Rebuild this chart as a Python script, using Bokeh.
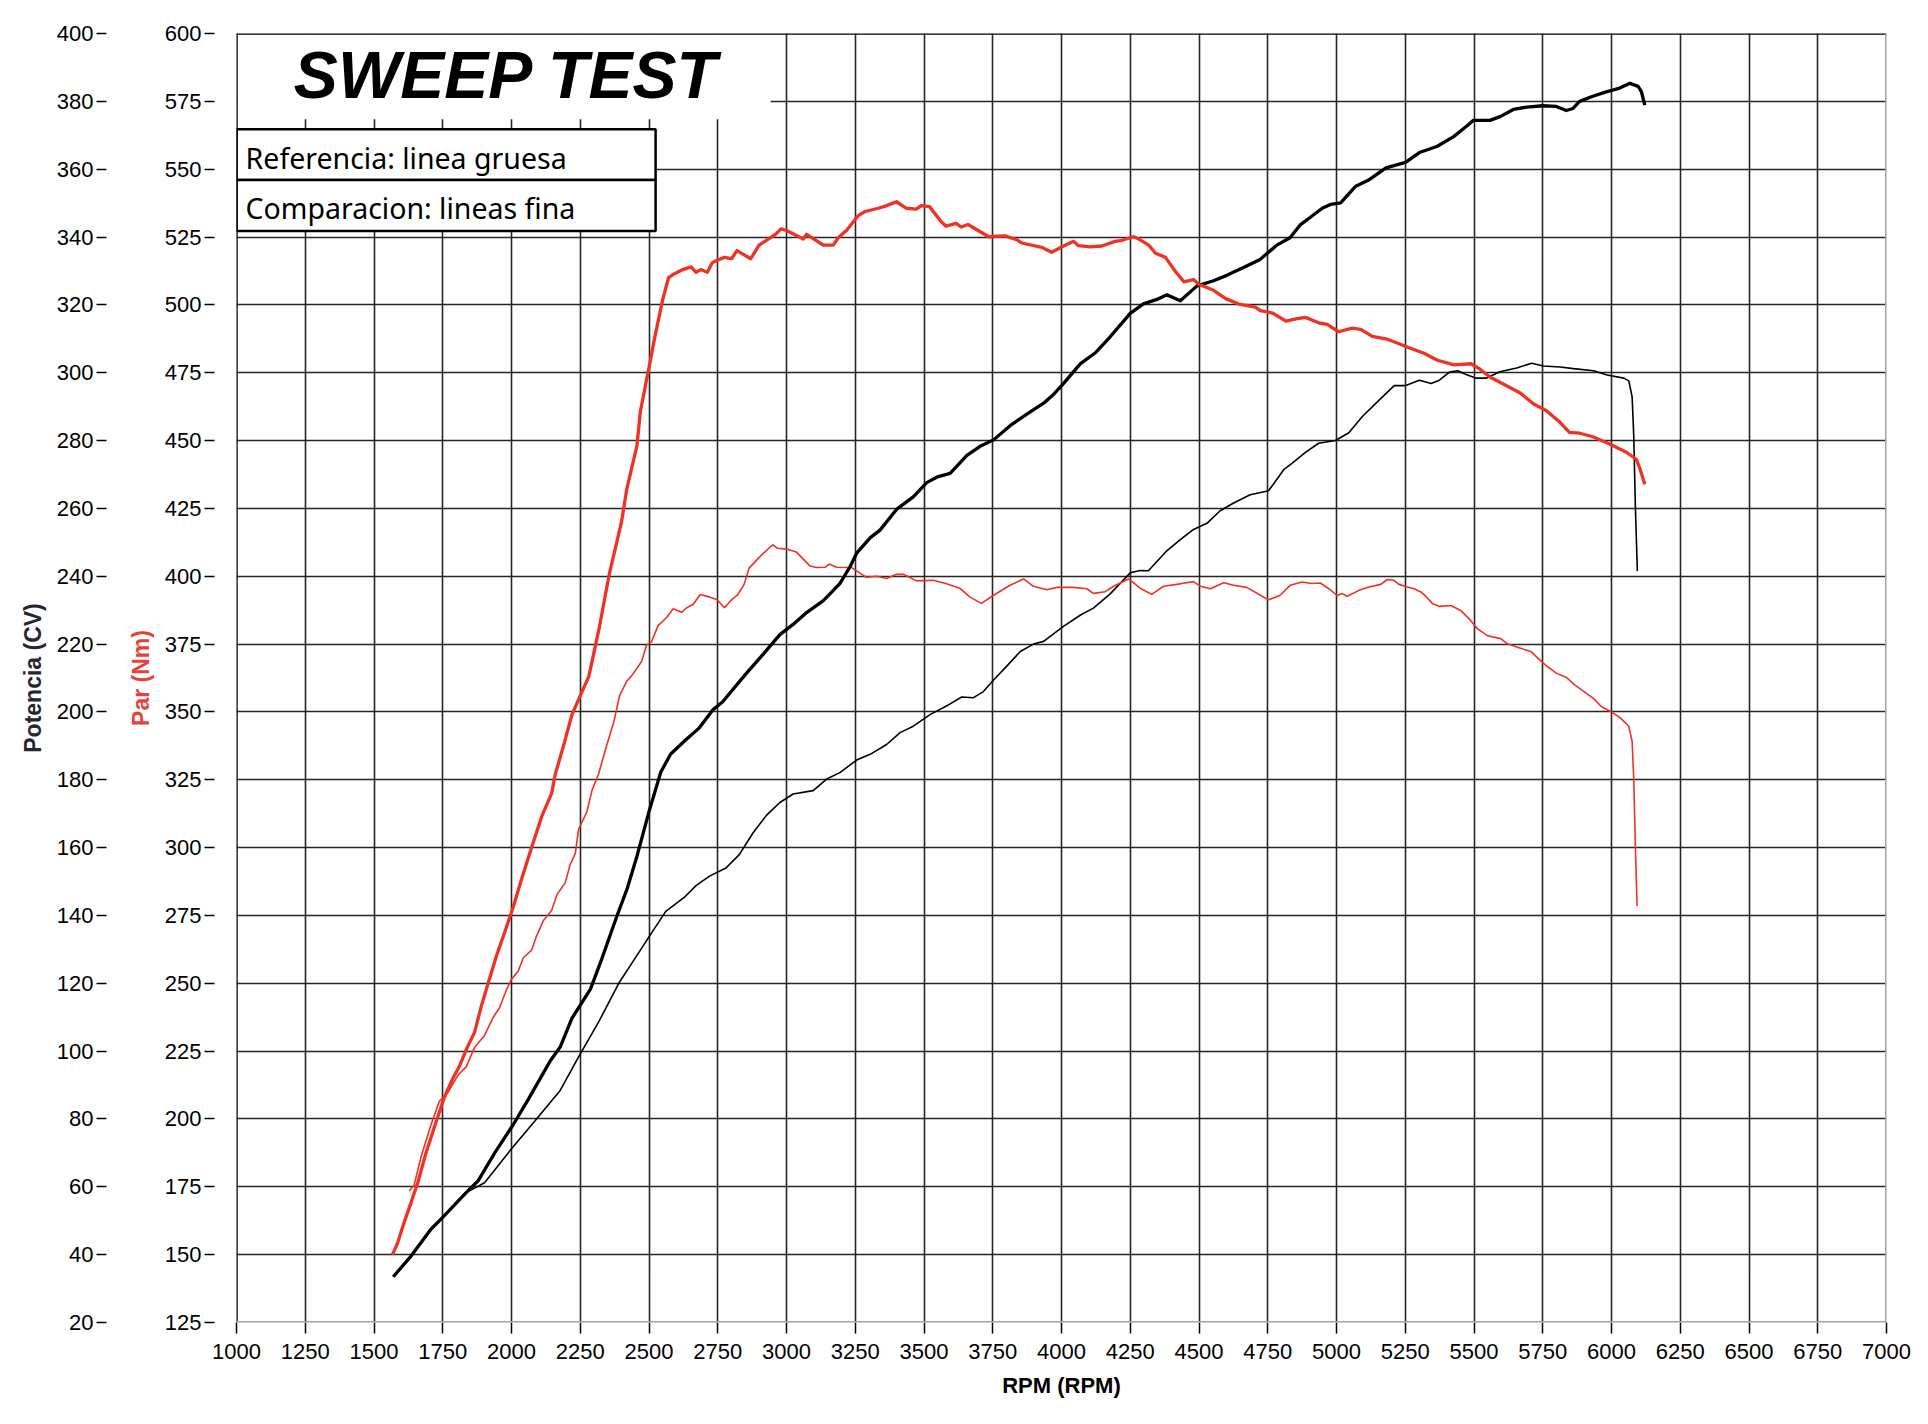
from bokeh.plotting import figure
from bokeh.models import Range1d, LinearAxis, FixedTicker, BoxAnnotation, Span, Label
from bokeh.embed import file_html
from bokeh.resources import INLINE

# ---------------- data ----------------
rpm_ticks = list(range(1000, 7001, 250))
nm_ticks = list(range(125, 601, 25))
cv_ticks = list(range(20, 401, 20))

title_text = "SWEEP TEST"
legend_rows = ["Referencia: linea gruesa", "Comparacion: lineas fina"]
x_label = "RPM (RPM)"
cv_label = "Potencia (CV)"
nm_label = "Par (Nm)"

# Reference (thick) torque, Nm
ref_tq_rpm = [1567, 1585, 1610, 1634, 1659, 1689, 1726, 1756, 1787, 1811, 1835, 1866, 1890, 1915, 1945,
              1976, 2006, 2037, 2073, 2110, 2146, 2159, 2189, 2220, 2250, 2281, 2319, 2356, 2400, 2419,
              2456, 2469, 2506, 2521, 2550, 2571, 2593, 2623, 2653, 2671, 2688, 2712, 2730, 2750, 2774,
              2800, 2820, 2870, 2900, 2960, 2980, 3000, 3061, 3073, 3134, 3170, 3188, 3218, 3262, 3286,
              3334, 3359, 3400, 3436, 3472, 3490, 3520, 3562, 3580, 3617, 3635, 3660, 3697, 3735, 3795,
              3837, 3855, 3928, 3964, 4002, 4044, 4062, 4104, 4147, 4195, 4220, 4262, 4280, 4317, 4342,
              4378, 4415, 4445, 4481, 4500, 4549, 4597, 4645, 4705, 4723, 4767, 4816, 4853, 4887, 4935,
              4966, 5008, 5057, 5088, 5130, 5179, 5209, 5257, 5318, 5367, 5428, 5489, 5522, 5558, 5620,
              5668, 5717, 5762, 5810, 5847, 5884, 5932, 5993, 6054, 6090, 6103, 6121]
ref_tq_nm = [150, 154, 162, 169, 176.5, 187.5, 199, 208, 215, 219.5, 225.5, 232, 241.5, 250, 260,
             269, 278, 288.5, 300, 311.5, 320, 327, 337.5, 349, 356, 363, 381, 401, 420, 432,
             448, 461, 480, 488, 502, 510, 511.5, 513, 514, 512, 513, 512, 515.5, 516.5, 517.5,
             517, 520, 517, 522, 526, 528, 527.4, 524.3, 526, 522, 522, 524.7, 527.4, 533, 534.4,
             535.6, 536.4, 538, 535.6, 535.3, 536.6, 536.2, 530.7, 529, 530, 528.7, 529.6, 527.4, 525.1, 525.4,
             524, 522.8, 521.2, 519.4, 521.4, 523.4, 521.8, 521.4, 521.7, 523.4, 523.8, 525.1, 524.3, 522, 519,
             517.5, 512.2, 508.5, 509.3, 507.5, 505.6, 502.3, 500.3, 499.2, 497.9, 497, 494, 494.8, 495.4, 493.4,
             492.8, 490.1, 491.4, 491, 488.4, 487.5, 486.4, 484.5, 482.2, 479.6, 477.9, 478.3, 476.3, 473.4, 470.1,
             467.5, 463.5, 461.1, 457, 453, 452.7, 451.4, 448.7, 445.7, 443.1, 439.8, 433.9]

# Reference (thick) power, CV
ref_pw_rpm = [1570, 1634, 1707, 1756, 1835, 1878, 1939, 2006, 2061, 2140, 2177, 2220, 2287, 2323, 2384,
              2421, 2457, 2500, 2543, 2579, 2634, 2683, 2732, 2768, 2850, 2910, 2976, 3024, 3073, 3134,
              3194, 3231, 3255, 3304, 3340, 3400, 3461, 3510, 3546, 3595, 3656, 3704, 3753, 3813, 3874,
              3935, 3971, 4007, 4068, 4122, 4177, 4250, 4298, 4347, 4383, 4432, 4493, 4553, 4601, 4662,
              4722, 4783, 4831, 4867, 4911, 4948, 4978, 5015, 5070, 5119, 5180, 5251, 5304, 5365, 5426,
              5475, 5498, 5558, 5595, 5643, 5692, 5750, 5799, 5836, 5860, 5884, 5932, 5981, 6030, 6067,
              6097, 6109, 6121]
ref_pw_cv = [33.5, 39.5, 47.5, 51.5, 58.3, 61.7, 70, 78.3, 85.8, 97, 101.2, 109.7, 118.3, 126, 140,
             148, 157.7, 170.6, 182.3, 187.6, 191.8, 195.3, 200.6, 203, 211, 216.5, 222.8, 225.8, 229.3, 232.8,
             237.8, 242.8, 246.8, 251.3, 253.6, 259.7, 263.4, 267.6, 269.2, 270.3, 275.6, 278.3, 280.2, 284.4, 287.8,
             291, 293.6, 296.8, 302.6, 305.8, 310.6, 317.5, 320.3, 321.6, 323, 321.2, 325.6, 327.1, 328.7, 331,
             333.4, 337.6, 339.8, 343.5, 346.2, 348.5, 349.6, 350.1, 355, 356.9, 360.4, 362, 365, 366.7, 369.6,
             372.8, 374.4, 374.4, 375.5, 377.6, 378.3, 378.7, 378.5, 377.3, 377.9, 380, 381.5, 382.8, 383.9, 385.3,
             384.4, 382.8, 378.9]

# Comparison (thin) power, CV
cmp_pw_rpm = [1570, 1634, 1707, 1756, 1835, 1902, 2000, 2085, 2177, 2244, 2317, 2390, 2439, 2500, 2561,
              2628, 2671, 2720, 2780, 2829, 2878, 2927, 2976, 3024, 3097, 3146, 3194, 3255, 3304, 3364,
              3413, 3461, 3522, 3583, 3637, 3680, 3716, 3753, 3801, 3850, 3898, 3935, 4007, 4068, 4116,
              4177, 4250, 4286, 4316, 4383, 4432, 4480, 4529, 4577, 4626, 4686, 4753, 4808, 4838, 4887,
              4935, 4996, 5045, 5094, 5155, 5210, 5252, 5301, 5344, 5374, 5411, 5441, 5471, 5508, 5545,
              5594, 5655, 5710, 5752, 5813, 5862, 5935, 5984, 6045, 6063, 6075, 6081, 6087, 6094]
cmp_pw_cv = [33.5, 39.5, 47.5, 51.5, 58.3, 61.2, 71.2, 79.4, 88.4, 98.3, 108.6, 120, 126.1, 133.7, 141.2,
             145.3, 148.8, 151.6, 154, 158, 164.3, 169.5, 173.3, 175.8, 176.8, 180.2, 182.1, 185.8, 187.5, 190.4,
             193.9, 195.8, 199.2, 201.8, 204.4, 204.2, 206, 209.4, 213.5, 217.8, 220, 220.8, 225.2, 228.5, 230.6,
             234.8, 241, 241.7, 241.6, 247.5, 250.8, 253.8, 255.6, 259.3, 261.6, 264, 265.2, 271.4, 273.3, 276.5,
             279.2, 280, 282.3, 287.1, 291.9, 296.2, 296.2, 297.8, 296.8, 297.8, 300.2, 300.6, 299.5, 298.4, 298.4,
             300.3, 301.4, 302.8, 302, 301.7, 301.2, 300.6, 299.3, 298.4, 297.6, 292.9, 281.2, 260, 241.5]

# Comparison (thin) torque, Nm
cmp_tq_rpm = [1628, 1646, 1671, 1707, 1738, 1768, 1805, 1835, 1866, 1902, 1933, 1957, 1982, 2000, 2024,
              2043, 2073, 2091, 2116, 2146, 2165, 2195, 2213, 2232, 2244, 2274, 2293, 2317, 2341, 2372,
              2393, 2418, 2436, 2473, 2491, 2509, 2533, 2564, 2588, 2619, 2637, 2661, 2686, 2722, 2747,
              2774, 2803, 2821, 2846, 2864, 2907, 2950, 2968, 3000, 3036, 3085, 3109, 3140, 3155, 3182,
              3237, 3291, 3328, 3364, 3400, 3425, 3473, 3534, 3582, 3630, 3667, 3709, 3753, 3813, 3862,
              3898, 3947, 3983, 4044, 4092, 4116, 4159, 4189, 4244, 4286, 4328, 4371, 4432, 4480, 4505,
              4541, 4590, 4626, 4674, 4723, 4753, 4795, 4832, 4874, 4911, 4941, 4972, 5002, 5021, 5039,
              5082, 5118, 5161, 5185, 5209, 5227, 5258, 5282, 5307, 5325, 5349, 5374, 5416, 5452, 5482,
              5513, 5549, 5597, 5622, 5658, 5706, 5756, 5799, 5836, 5866, 5890, 5933, 5963, 6000, 6032,
              6063, 6075, 6081, 6087, 6093]
cmp_tq_nm = [173.5, 175.7, 186, 197.8, 206.6, 209.6, 216.1, 219.2, 226.4, 230.8, 237.4, 241.1, 247.7, 251.5, 254.4,
             259.4, 262.2, 267.4, 273.1, 276.8, 282.6, 287, 293.6, 297.9, 306.7, 313.2, 321.2, 327.2, 336, 346.3,
             356, 361.2, 363.2, 368.6, 374.6, 375.8, 381.8, 384.8, 388, 386.7, 388.4, 389.7, 393.3, 392.3, 391.4,
             388.4, 391.6, 393, 397, 403, 407.6, 411.6, 410.3, 410, 408.9, 403.8, 403.2, 403.3, 404.5, 403.3,
             403.2, 399.6, 400, 399.2, 400.7, 400.7, 398.3, 398.5, 397.2, 395.6, 392.3, 390, 393, 396.7, 399,
             396.3, 395, 395.9, 395.9, 395.4, 393.7, 394.3, 396.3, 399, 395.6, 393.3, 396.3, 397.2, 398, 396.3,
             395.4, 397.6, 396.7, 395.9, 393, 391.3, 393, 396.7, 397.9, 397.3, 397.5, 395.4, 392.9, 393.6, 392.6,
             394.8, 396, 397, 398.8, 398.5, 397, 396, 395.4, 394.2, 392.6, 389.9, 388.9, 389.2, 387.4, 384.3,
             380.6, 378.1, 377, 375.1, 373.8, 372.3, 367.6, 364.3, 362.7, 360, 358.2, 355.1, 352, 350, 347.8,
             344.7, 339.1, 325, 300, 278.5]

# ---------------- styling ----------------
RED = "#ee3224"
BLACK = "#000000"
GRID = "#262626"
TICK_FONT = "Liberation Sans"

p = figure(
    frame_width=1650, frame_height=1289,
    min_border_left=236, min_border_right=28, min_border_top=33, min_border_bottom=90,
    x_range=Range1d(1000, 7000), y_range=Range1d(125, 600),
    output_backend="svg", toolbar_location=None,
    background_fill_color="white", border_fill_color="white",
)
p.outline_line_color = None
p.extra_y_ranges = {"cv": Range1d(20, 400)}

# grids
p.xgrid.ticker = FixedTicker(ticks=rpm_ticks)
p.ygrid.ticker = FixedTicker(ticks=nm_ticks)
for g in (p.xgrid, p.ygrid):
    g.grid_line_color = GRID
    g.grid_line_width = 1.6

# x axis
xa = p.xaxis[0]
xa.ticker = FixedTicker(ticks=rpm_ticks)
xa.axis_line_color = None
xa.major_tick_out = 11
xa.major_tick_in = 0
xa.major_tick_line_color = BLACK
xa.major_tick_line_width = 1.5
xa.minor_tick_line_color = None
xa.major_label_text_font = TICK_FONT
xa.major_label_text_font_size = "22px"
xa.major_label_text_color = BLACK
xa.major_label_standoff = 10
xa.axis_label = x_label
xa.axis_label_text_font = TICK_FONT
xa.axis_label_text_font_style = "bold"
xa.axis_label_text_font_size = "22px"
xa.axis_label_text_color = BLACK
xa.axis_label_standoff = 11


def style_y(ax, ticks, label, color, label_standoff, tick_out, dash):
    ax.ticker = FixedTicker(ticks=ticks)
    ax.axis_line_color = None
    ax.major_tick_out = tick_out
    ax.major_tick_in = 0
    ax.major_tick_line_color = BLACK
    ax.major_tick_line_width = 1.5
    ax.major_tick_line_dash = dash
    ax.minor_tick_line_color = None
    ax.major_label_text_font = TICK_FONT
    ax.major_label_text_font_size = "22px"
    ax.major_label_text_color = BLACK
    ax.major_label_standoff = 3
    ax.axis_label = label
    ax.axis_label_text_font = TICK_FONT
    ax.axis_label_text_font_style = "bold"
    ax.axis_label_text_font_size = "23px"
    ax.axis_label_text_color = color
    ax.axis_label_standoff = label_standoff


style_y(p.yaxis[0], nm_ticks, nm_label, "#e5433a", 8, 32, "10 22")
cv_axis = LinearAxis(y_range_name="cv")
style_y(cv_axis, cv_ticks, cv_label, "#26262e", 8, 28, "10 18")
p.add_layout(cv_axis, "left")

# curves: thin first, thick on top
p.line(cmp_pw_rpm, cmp_pw_cv, y_range_name="cv", line_color=BLACK, line_width=1.6)
p.line(cmp_tq_rpm, cmp_tq_nm, line_color=RED, line_width=1.6)
p.line(ref_pw_rpm, ref_pw_cv, y_range_name="cv", line_color=BLACK, line_width=3.3, line_join="round")
p.line(ref_tq_rpm, ref_tq_nm, line_color=RED, line_width=3.3, line_join="round")

# title area and legend boxes
p.add_layout(BoxAnnotation(left=1000, right=2942, top=600, bottom=568.4,
                           fill_color="white", fill_alpha=1.0, line_color=None))
p.add_layout(BoxAnnotation(left=1000, right=2524, top=564.7, bottom=546.0,
                           fill_color="white", fill_alpha=1.0,
                           line_color=BLACK, line_alpha=1.0, line_width=2.5))
p.add_layout(BoxAnnotation(left=1000, right=2524, top=546.0, bottom=527.2,
                           fill_color="white", fill_alpha=1.0,
                           line_color=BLACK, line_alpha=1.0, line_width=2.5))

p.add_layout(Label(x=1982, y=584.6, text=title_text, text_font="Liberation Sans",
                   text_font_style="bold italic", text_font_size="66px", text_color=BLACK,
                   text_align="center", text_baseline="middle"))
p.add_layout(Label(x=1033, y=554.0, text=legend_rows[0], text_font="Noto Sans",
                   text_font_size="28.5px", text_color=BLACK, text_align="left", text_baseline="middle"))
p.add_layout(Label(x=1033, y=535.7, text=legend_rows[1], text_font="Noto Sans",
                   text_font_size="28.5px", text_color=BLACK, text_align="left", text_baseline="middle"))

# frame borders
p.add_layout(Span(location=600, dimension="width", line_color=BLACK, line_width=2.5))
p.add_layout(Span(location=1000, dimension="height", line_color=BLACK, line_width=2.5))
p.add_layout(Span(location=125, dimension="width", line_color="#a3a3a3", line_width=3))
p.add_layout(Span(location=7000, dimension="height", line_color="#a3a3a3", line_width=3))

open("out.html", "w").write(file_html(p, INLINE))
